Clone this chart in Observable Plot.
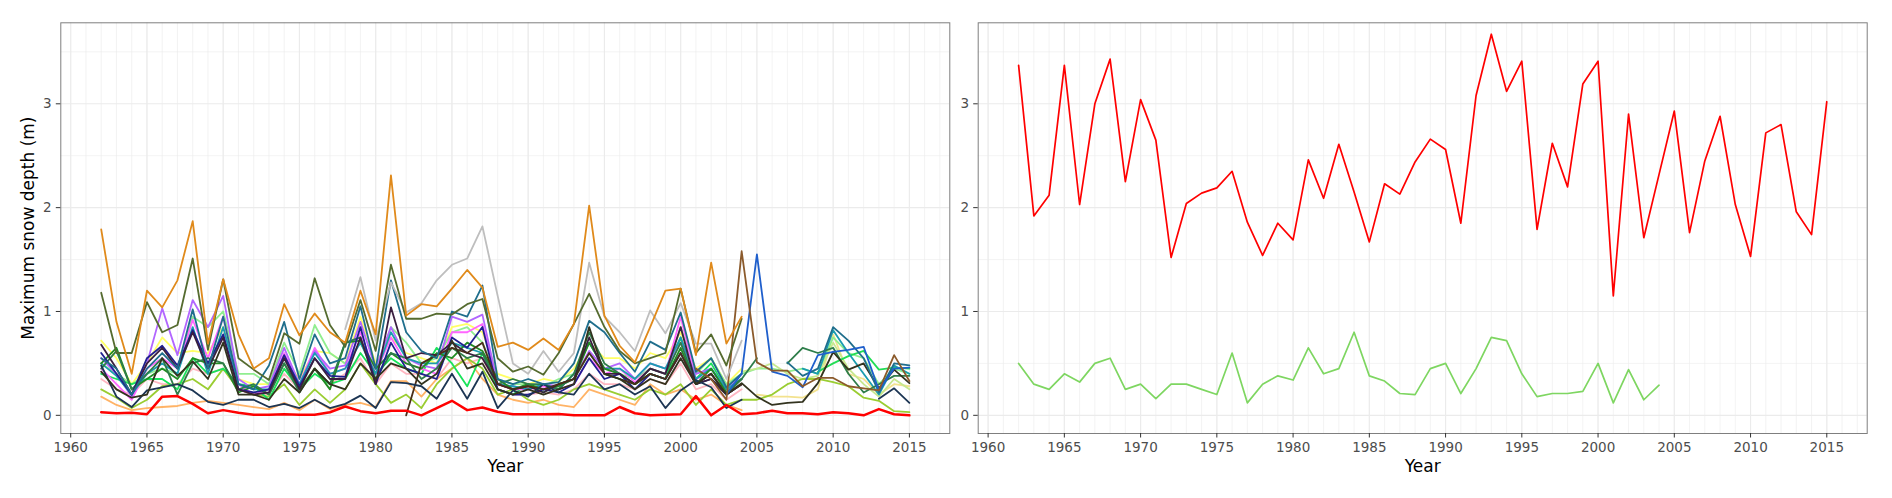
<!DOCTYPE html>
<html>
<head>
<meta charset="utf-8">
<script src="https://cdn.jsdelivr.net/npm/d3@7"></script>
<script src="https://cdn.jsdelivr.net/npm/@observablehq/plot@0.6"></script>
<style>
  body { margin: 0; background: #fff; }
  #wrap { position: relative; width: 1892px; height: 498px; overflow: hidden; background: #fff; }
  #left, #right { position: absolute; top: 0; }
  #left { left: 0; }
  #right { left: 955px; }
</style>
</head>
<body>
<div id="wrap"><div id="left"></div><div id="right"></div></div>
<script>
const N = null;
const years = [1962,1963,1964,1965,1966,1967,1968,1969,
  1970,1971,1972,1973,1974,1975,1976,1977,1978,1979,
  1980,1981,1982,1983,1984,1985,1986,1987,1988,1989,
  1990,1991,1992,1993,1994,1995,1996,1997,1998,1999,
  2000,2001,2002,2003,2004,2005,2006,2007,2008,2009,
  2010,2011,2012,2013,2014,2015];
const xTicks = [1960,1965,1970,1975,1980,1985,1990,1995,2000,2005,2010,2015];
const yTicks = [0,1,2,3];
const yMinor = [0.5,1.5,2.5,3.5];
const xTitle = "Year";
const yTitle = "Maximum snow depth (m)";

// ---- Left panel: all stations ----
const sYellow = [0.72,0.55,0.30,0.50,0.75,0.60,0.62,0.60,
  0.85,0.35,0.30,0.30,0.55,0.35,0.62,0.60,0.50,0.95,
  0.50,0.75,0.60,0.55,0.50,0.85,0.88,0.80,0.40,0.35,
  0.30,0.35,0.32,0.45,0.70,0.55,0.55,0.45,0.60,0.55,
  0.80,0.45,0.55,0.30,0.45,N,N,N,N,N,
  N,N,N,N,N,N];
const sPink = [0.35,0.25,0.20,0.35,0.30,0.30,0.45,0.40,
  0.45,0.25,0.20,0.20,0.40,0.25,0.45,0.30,0.40,0.55,
  0.30,0.50,0.40,0.40,0.35,0.55,0.50,0.55,0.25,0.20,
  0.20,0.22,0.20,0.25,0.40,0.30,0.30,0.25,0.35,0.30,
  0.50,0.25,0.30,0.15,0.25,N,N,N,N,N,
  N,N,N,N,N,N];
const sKhaki = [N,N,N,N,N,N,N,N,
  N,N,N,N,N,N,N,N,N,N,
  N,N,N,N,N,N,N,N,N,N,
  N,N,N,N,N,N,N,N,N,N,
  N,N,N,N,N,0.20,0.18,0.18,0.17,0.25,
  0.78,0.40,0.35,0.20,0.30,0.28];
const sLightOrange = [0.18,0.10,0.05,0.07,0.08,0.09,0.12,0.14,
  0.12,0.10,0.08,0.06,0.12,0.05,0.15,0.06,0.10,0.12,
  0.08,0.33,0.33,0.18,0.35,0.45,0.55,0.35,0.20,0.15,
  0.12,0.15,0.10,0.08,0.25,0.20,0.15,0.10,0.30,0.20,
  0.25,0.15,0.20,0.10,0.05,N,N,N,N,N,
  N,N,N,N,N,N];
const sLightGreen = [0.50,0.40,0.30,0.40,0.45,0.40,0.95,0.85,
  1.00,0.40,0.40,0.30,0.70,0.40,0.87,0.60,0.50,0.70,
  0.40,0.85,0.70,0.50,0.55,0.80,0.85,0.70,0.35,0.30,
  0.30,0.28,0.35,0.40,0.70,0.45,0.40,0.35,0.45,0.40,
  0.85,0.40,0.55,0.30,0.40,0.45,0.45,0.42,0.45,0.40,
  0.75,0.60,0.55,0.30,0.45,0.40];
const sPaleGreen = [N,N,N,N,N,N,N,N,
  N,N,N,N,N,N,N,N,N,N,
  N,N,N,N,N,N,N,N,N,N,
  N,N,N,N,N,N,N,N,N,N,
  N,N,N,N,0.42,0.45,0.50,0.40,0.35,0.38,
  0.70,0.45,0.30,0.18,0.35,0.25];
const sYellowGreen = [0.25,0.17,0.07,0.15,0.28,0.30,0.35,0.25,
  0.45,0.25,0.20,0.18,0.30,0.10,0.25,0.12,0.25,0.50,
  0.30,0.12,0.20,0.07,0.30,0.45,0.55,0.45,0.20,0.25,
  0.15,0.10,0.15,0.25,0.30,0.25,0.20,0.15,0.25,0.20,
  0.30,0.10,0.25,0.10,0.15,0.15,0.20,0.30,0.35,0.35,
  0.32,0.28,0.17,0.14,0.04,0.03];
const sBrightGreen = [0.40,0.35,0.30,0.35,0.35,0.25,0.55,0.40,
  0.45,0.30,0.28,0.15,0.45,0.25,0.40,0.30,0.35,0.60,
  0.40,0.55,0.45,0.40,0.65,0.50,0.28,0.60,0.25,0.20,
  0.30,0.22,0.30,0.35,0.60,0.40,0.35,0.30,0.40,0.35,
  0.75,0.35,0.50,0.25,0.35,N,N,N,N,N,
  N,N,N,N,N,N];
const sSpringGreen = [N,N,N,N,N,N,N,N,
  N,N,N,N,N,N,N,N,N,N,
  N,N,N,N,N,N,N,N,N,N,
  N,N,N,N,N,N,N,N,N,N,
  N,N,N,N,N,N,N,N,N,0.42,
  0.50,0.57,0.62,0.44,0.46,0.45];
const sMagenta = [0.45,0.30,0.15,0.45,0.55,0.45,0.92,0.55,
  0.95,0.30,0.20,0.25,0.60,0.30,0.65,0.40,0.45,0.80,
  0.40,0.75,0.50,0.45,0.40,0.80,0.80,0.88,0.30,0.25,
  0.25,0.28,0.25,0.30,0.55,0.40,0.45,0.32,0.45,0.40,
  0.95,0.35,0.40,0.22,0.35,N,N,N,N,N,
  N,N,N,N,N,N];
const sPurple = [0.55,0.40,0.18,0.50,1.03,0.58,1.11,0.85,
  1.15,0.35,0.25,0.28,0.65,0.30,0.62,0.45,0.48,0.90,
  0.45,0.85,0.55,0.48,0.45,0.95,0.90,0.97,0.30,0.28,
  0.25,0.30,0.28,0.35,0.62,0.45,0.50,0.35,0.50,0.45,
  0.70,0.40,0.45,0.25,0.40,N,N,N,N,N,
  N,N,N,N,N,N];
const sCyan = [0.50,0.38,0.20,0.40,0.50,0.40,0.85,0.40,
  0.85,0.30,0.25,0.25,0.55,0.30,0.60,0.40,0.45,0.70,
  0.40,0.80,0.55,0.50,0.50,0.70,0.65,0.60,0.30,0.28,
  0.25,0.30,0.25,0.40,0.70,0.45,0.45,0.35,0.50,0.45,
  0.75,0.35,0.45,0.25,0.35,N,N,N,0.45,0.40,
  0.82,0.60,0.40,0.20,0.48,0.40];
const sForest = [0.50,0.65,0.25,0.35,0.45,0.35,0.55,0.50,
  0.50,0.22,0.28,0.20,0.50,0.25,0.45,0.25,0.70,0.72,
  0.45,0.60,0.50,0.45,0.60,0.55,0.70,0.62,0.35,0.25,
  0.30,0.25,0.28,0.35,0.70,0.45,0.40,0.30,0.40,0.35,
  0.65,0.30,0.45,0.22,0.35,N,N,N,N,N,
  N,N,N,N,N,N];
const sDarkGreen = [0.45,0.62,0.25,0.40,0.55,0.20,0.50,0.55,
  0.50,0.25,0.30,0.20,0.50,0.22,0.45,0.30,0.70,0.75,
  0.35,0.60,0.55,0.35,0.45,0.65,0.55,0.60,0.30,0.35,
  0.30,0.30,0.25,0.40,0.80,0.50,0.40,0.30,0.45,0.40,
  0.70,0.30,0.40,0.20,0.35,0.55,N,0.50,0.65,0.60,
  0.65,0.40,0.22,0.30,0.38,0.38];
const sNavy = [0.60,0.40,0.20,0.55,0.67,0.48,0.82,0.50,
  0.78,0.25,0.22,0.25,0.58,0.28,0.55,0.38,0.37,0.85,
  0.30,0.70,0.45,0.40,0.35,0.75,0.65,0.85,0.25,0.20,
  0.20,0.25,0.22,0.30,0.55,0.35,0.40,0.25,0.40,0.35,
  0.60,0.30,0.35,0.20,0.30,N,N,N,N,N,
  N,N,N,N,N,N];
const sPlum = [0.68,0.45,0.20,0.50,0.65,0.45,0.80,0.45,
  0.75,0.25,0.20,0.22,0.55,0.25,0.55,0.35,0.35,0.75,
  0.30,1.04,0.55,0.60,0.58,0.70,0.60,0.55,0.30,0.25,
  0.28,0.22,0.30,0.35,0.75,0.40,0.40,0.30,0.45,0.40,
  0.85,0.30,0.35,0.20,0.30,N,N,N,N,N,
  N,N,N,N,N,N];
const sDarkBrown = [N,N,N,N,N,N,N,N,
  N,N,N,N,N,N,N,N,N,N,
  N,N,0.00,0.50,0.58,0.65,0.60,0.70,0.30,0.25,
  0.28,0.25,0.30,0.35,0.60,0.40,0.35,0.30,0.40,0.35,
  0.60,0.30,0.40,0.20,0.30,N,N,N,N,N,
  N,N,N,N,N,N];
const sSlate = [0.48,0.18,0.08,0.24,0.27,0.30,0.24,0.13,
  0.10,0.15,0.15,0.08,0.11,0.07,0.15,0.07,0.11,0.19,
  0.07,0.32,0.31,0.28,0.16,0.40,0.16,0.42,0.07,0.24,
  0.18,0.30,0.22,0.20,0.40,0.25,0.30,0.20,0.28,0.07,
  0.24,0.34,0.27,0.07,0.15,N,N,N,N,N,
  N,N,N,0.16,0.26,0.12];
const sDarkOlive = [0.42,0.25,0.17,0.20,0.55,0.38,0.52,0.35,
  0.70,0.20,0.20,0.15,0.35,0.22,0.45,0.30,0.25,0.50,
  0.35,0.50,0.45,0.30,0.40,0.72,0.45,0.50,0.25,0.20,
  0.25,0.20,0.25,0.30,0.85,0.40,0.35,0.25,0.35,0.30,
  0.55,0.30,0.40,0.20,0.31,0.18,0.10,0.12,0.13,0.31,
  0.61,0.44,0.50,0.26,0.44,0.31];
const sTeal = [0.55,0.45,0.20,0.45,0.60,0.45,1.02,0.45,
  0.95,0.30,0.25,0.48,0.90,0.35,0.78,0.50,0.55,1.05,
  0.45,1.30,0.80,0.62,0.55,1.00,0.95,1.25,0.35,0.30,
  0.35,0.30,0.32,0.50,0.91,0.80,0.60,0.42,0.71,0.63,
  0.99,0.42,0.55,0.27,0.40,N,N,0.51,0.38,0.45,
  0.85,0.72,0.55,0.22,0.50,0.48];
const sBlue = [N,N,N,N,N,N,N,N,
  N,N,N,N,N,N,N,N,N,N,
  N,N,N,N,N,N,N,N,N,N,
  N,N,N,N,N,N,N,N,N,N,
  N,N,N,0.20,0.40,1.55,0.42,0.38,0.27,0.58,
  0.61,0.63,0.66,0.24,0.45,0.46];
const sBrown = [N,N,N,N,N,N,N,N,
  N,N,N,N,N,N,N,N,N,N,
  N,N,N,N,N,N,N,N,N,N,
  N,N,N,N,N,N,N,N,N,N,
  N,0.45,0.35,0.15,1.58,0.51,0.43,0.43,0.28,0.36,
  0.36,0.28,0.26,0.24,0.58,0.33];
const sGrey = [N,N,N,N,N,N,N,N,
  N,N,N,N,N,N,N,N,0.83,1.33,
  0.72,1.28,0.99,1.08,1.30,1.45,1.51,1.82,1.15,0.50,
  0.40,0.62,0.42,0.60,1.47,0.95,0.80,0.62,1.01,0.79,
  1.08,0.69,0.69,0.35,0.72,N,N,N,N,N,
  N,N,N,N,N,N];
const sOlive = [1.18,0.60,0.60,1.09,0.80,0.87,1.51,0.63,
  1.31,0.55,0.44,0.34,0.79,0.69,1.32,0.87,0.66,1.11,
  0.62,1.45,0.93,0.93,0.98,0.97,1.07,1.12,0.55,0.42,
  0.47,0.39,0.60,0.88,1.17,0.85,0.62,0.50,0.55,0.60,
  1.22,0.60,0.78,0.48,0.93,N,N,N,N,N,
  N,N,N,N,N,N];
const sOrange = [1.79,0.90,0.40,1.20,1.04,1.30,1.87,0.69,
  1.31,0.78,0.45,0.55,1.07,0.77,0.98,0.80,0.70,1.20,
  0.78,2.31,0.96,1.07,1.05,1.22,1.40,1.23,0.66,0.70,
  0.63,0.74,0.63,0.88,2.02,0.96,0.67,0.51,0.85,1.20,
  1.22,0.58,1.47,0.69,0.95,N,N,N,N,N,
  N,N,N,N,N,N];
const sRedLow = [0.03,0.02,0.025,0.01,0.18,0.185,0.11,0.02,
  0.05,0.025,0.005,0.005,0.01,0.005,0.005,0.03,0.085,0.04,
  0.02,0.045,0.045,0.0,0.07,0.14,0.05,0.075,0.035,0.01,
  0.01,0.01,0.013,0.0,0.0,0.0,0.08,0.02,0.0,0.005,
  0.01,0.185,0.0,0.1,0.01,0.02,0.045,0.02,0.02,0.01,
  0.03,0.02,0.0,0.06,0.01,0.0];

// ---- Right panel ----
const sRedHigh = [3.37,1.92,2.12,3.37,2.03,3.00,3.43,2.25,
  3.04,2.65,1.52,2.04,2.14,2.19,2.35,1.86,1.54,1.85,
  1.69,2.46,2.09,2.61,2.15,1.67,2.23,2.13,2.44,2.66,
  2.56,1.85,3.08,3.67,3.12,3.41,1.79,2.62,2.20,3.19,
  3.41,1.15,2.90,1.71,2.32,2.93,1.76,2.45,2.88,2.03,
  1.53,2.72,2.80,1.96,1.74,3.02];
const sGreenRight = [0.50,0.30,0.25,0.40,0.32,0.50,0.55,0.25,
  0.30,0.16,0.30,0.30,0.25,0.20,0.60,0.12,0.30,0.38,
  0.34,0.65,0.40,0.45,0.80,0.38,0.33,0.21,0.20,0.45,
  0.50,0.21,0.45,0.75,0.72,0.40,0.18,0.21,0.21,0.23,
  0.50,0.12,0.44,0.15,0.29,N,N,N,N,N,
  N,N,N,N,N,N];

const leftSeries = [
  {name: "S01", color: "#FFFF66", values: sYellow},
  {name: "S02", color: "#FFB6C1", values: sPink},
  {name: "S03", color: "#F3E28E", values: sKhaki},
  {name: "S04", color: "#FFB366", values: sLightOrange},
  {name: "S05", color: "#90EE90", values: sLightGreen},
  {name: "S06", color: "#C6E88E", values: sPaleGreen},
  {name: "S07", color: "#9ACD32", values: sYellowGreen},
  {name: "S08", color: "#19E35A", values: sBrightGreen},
  {name: "S09", color: "#22DD55", values: sSpringGreen},
  {name: "S10", color: "#FF66FF", values: sMagenta},
  {name: "S11", color: "#B266FF", values: sPurple},
  {name: "S12", color: "#1A9CB0", values: sCyan},
  {name: "S13", color: "#228B22", values: sForest},
  {name: "S14", color: "#2E7D4A", values: sDarkGreen},
  {name: "S15", color: "#1F1F8F", values: sNavy},
  {name: "S16", color: "#3A1F3F", values: sPlum},
  {name: "S17", color: "#4A2E1A", values: sDarkBrown},
  {name: "S18", color: "#1C3553", values: sSlate},
  {name: "S19", color: "#33331F", values: sDarkOlive},
  {name: "S20", color: "#1F6E8C", values: sTeal},
  {name: "S21", color: "#1F5FCC", values: sBlue},
  {name: "S22", color: "#8B5A2B", values: sBrown},
  {name: "S23", color: "#BEBEBE", values: sGrey},
  {name: "S24", color: "#556B2F", values: sOlive},
  {name: "S25", color: "#E08A1B", values: sOrange}
];
const leftRed = {name: "S26", color: "#FF0000", values: sRedLow};
const rightSeries = [
  {name: "Green", color: "#7ED661", values: sGreenRight},
  {name: "Red", color: "#FF0000", values: sRedHigh}
];

for (const s of [...leftSeries, leftRed, ...rightSeries]) {
  if (s.values.length !== years.length) throw new Error(s.name + " has " + s.values.length);
}

function toRows(list) {
  return list.flatMap(s => years.map((yr, i) => ({year: yr, value: s.values[i], station: s.name, color: s.color})));
}

const minorYears = d3.range(1960, 2018);
const xDomain = [1959.35, 2017.65];
const yDomain = [-0.175, 3.78];

function panel({width, marginLeft, marginRight, lineMarks, withYTitle}) {
  const marks = [
    Plot.ruleX(minorYears, {x: d => d, stroke: "#EBEBEB", strokeWidth: 0.6}),
    Plot.ruleX(xTicks, {x: d => d, stroke: "#EBEBEB", strokeWidth: 1.1}),
    Plot.ruleY(yMinor, {y: d => d, stroke: "#EBEBEB", strokeWidth: 0.6}),
    Plot.ruleY(yTicks, {y: d => d, stroke: "#EBEBEB", strokeWidth: 1.1}),
    ...lineMarks,
    Plot.frame({stroke: "#7F7F7F", strokeWidth: 1}),
    Plot.axisX(xTicks, {tickFormat: d => String(d), tickSize: 4.5, tickPadding: 4.7, fontSize: 13.5, stroke: "#333333", fill: "#4D4D4D", label: null}),
    Plot.axisY(yTicks, {tickFormat: d => String(d), tickSize: 4.5, tickPadding: 4.7, fontSize: 13.5, stroke: "#333333", fill: "#4D4D4D", label: null}),
    Plot.text([xTitle], {text: d => d, frameAnchor: "bottom", textAnchor: "middle", lineAnchor: "middle", dy: 33.5, fontSize: 17, fill: "#000000"})
  ];
  if (withYTitle) {
    marks.push(Plot.text([yTitle], {text: d => d, frameAnchor: "left", textAnchor: "middle", lineAnchor: "middle", rotate: -90, dx: -32, fontSize: 17, fill: "#000000"}));
  }
  return Plot.plot({
    width, height: 498,
    marginLeft, marginRight, marginTop: 22.3, marginBottom: 65,
    x: {domain: xDomain},
    y: {domain: yDomain},
    color: {type: "identity"},
    style: {fontFamily: "'DejaVu Sans', sans-serif", fontSize: "13.5px", background: "white", overflow: "visible"},
    marks
  });
}

const leftPlot = panel({
  width: 955, marginLeft: 60.3, marginRight: 5.7, withYTitle: true,
  lineMarks: [
    Plot.line(toRows(leftSeries), {x: "year", y: "value", z: "station", stroke: "color", strokeWidth: 1.8}),
    Plot.line(toRows([leftRed]), {x: "year", y: "value", z: "station", stroke: "color", strokeWidth: 2.5})
  ]
});
document.getElementById("left").appendChild(leftPlot);

const rightPlot = panel({
  width: 937, marginLeft: 22.7, marginRight: 25.3, withYTitle: false,
  lineMarks: [
    Plot.line(toRows(rightSeries), {x: "year", y: "value", z: "station", stroke: "color", strokeWidth: 1.7})
  ]
});
document.getElementById("right").appendChild(rightPlot);
</script>
</body>
</html>
